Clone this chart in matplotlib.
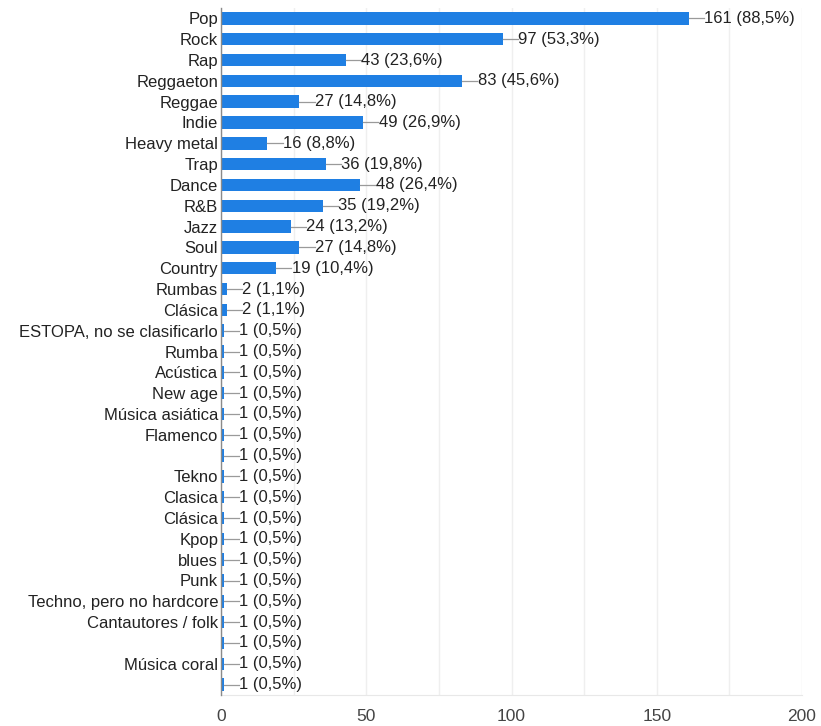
import matplotlib.pyplot as plt
from matplotlib.ticker import MultipleLocator

# Datos (respuestas por genero)
generos = ["Pop", "Rock", "Rap", "Reggaeton", "Reggae", "Indie", "Heavy metal",
           "Trap", "Dance", "R&B", "Jazz", "Soul", "Country", "Rumbas", "Clásica",
           "ESTOPA, no se clasificarlo", "Rumba", "Acústica", "New age",
           "Música asiática", "Flamenco", "", "Tekno", "Clasica", "Clásica",
           "Kpop", "blues", "Punk", "Techno, pero no hardcore",
           "Cantautores / folk", "", "Música coral", ""]
votos = [161, 97, 43, 83, 27, 49, 16, 36, 48, 35, 24, 27, 19, 2, 2,
         1, 1, 1, 1, 1, 1, 1, 1, 1, 1, 1, 1, 1, 1, 1, 1, 1, 1]
porcentajes = ["88,5", "53,3", "23,6", "45,6", "14,8", "26,9", "8,8", "19,8",
               "26,4", "19,2", "13,2", "14,8", "10,4", "1,1", "1,1"] + ["0,5"] * 18

plt.rcParams['font.family'] = ['Liberation Sans', 'DejaVu Sans']

fig = plt.figure(figsize=(8.21, 7.26), dpi=100)
ax = fig.add_axes([221/821, 1 - 695/726, 581/821, 687/726])

azul = '#1f7fe3'
pos = list(range(len(generos)))
ax.barh(pos, votos, height=0.6, color=azul, zorder=3)

# lineas guia y etiquetas
for y, v, p in zip(pos, votos, porcentajes):
    ax.plot([v, v + 5.2], [y, y], color='#9a9a9a', lw=0.9, zorder=3)
    ax.text(v + 5.3, y, f"{v} ({p}%)", va='center', ha='left',
            fontsize=12, color='#222222', zorder=4)

ax.set_xlim(0, 200)
ax.set_ylim(len(generos) - 0.5, -0.5)
ax.set_yticks(pos)
ax.set_yticklabels(generos, fontsize=12, color='#222222')
ax.xaxis.set_major_locator(MultipleLocator(50))
ax.xaxis.set_minor_locator(MultipleLocator(25))
ax.tick_params(axis='x', which='both', length=0, pad=10, labelsize=12.5,
               labelcolor='#444444')
ax.tick_params(axis='y', length=0, pad=2)

ax.grid(axis='x', which='both', color='#efefef', lw=1, zorder=0)
for lado in ['top', 'right']:
    ax.spines[lado].set_visible(False)
ax.spines['bottom'].set_color('#e8e8e8')
ax.spines['left'].set_color('#8a8a8a')
ax.spines['left'].set_linewidth(1)
ax.spines['left'].set_zorder(5)

plt.savefig('out.png', dpi=100)
